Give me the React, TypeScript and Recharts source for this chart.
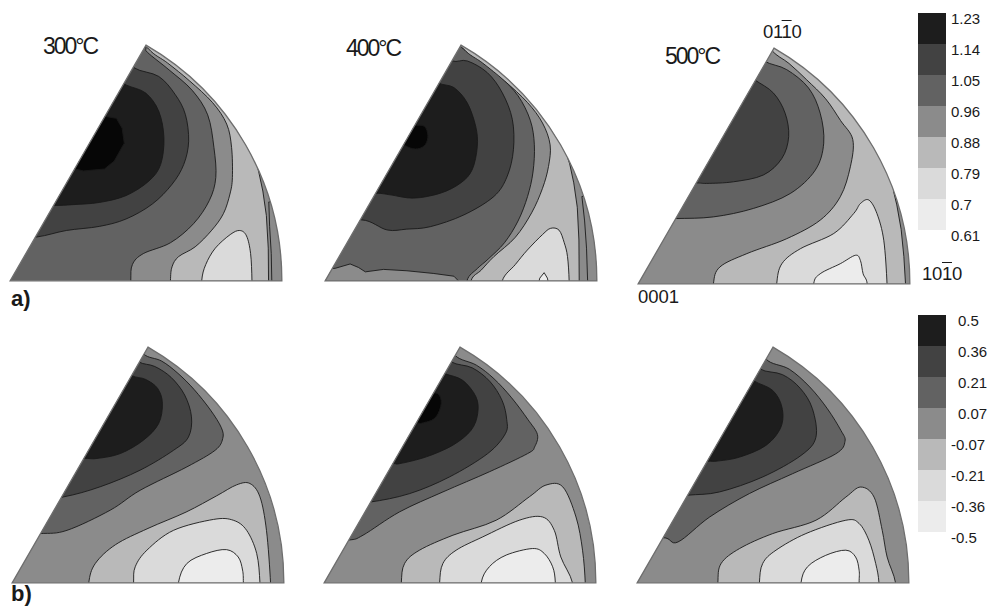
import React from 'react';
import { ScatterChart, Scatter, XAxis, YAxis, BarChart, Bar, Curve } from 'recharts';

type P = [number, number];

// grey level of each contour band (index 0 = lowest band)
const LEVEL_COLORS = ['#ececec', '#dadada', '#b9b9b9', '#8b8b8b', '#626262', '#424242', '#1d1d1d', '#060606'];

// the three poles of the hexagonal standard triangle (unit sector)
const POLES = [
  { label: '0001', u: 0, v: 0 },
  { label: '10-10', u: 1, v: 0 },
  { label: '01-10', u: 0.5, v: 0.866 },
];

const TEMPS = ['300°C', '400°C', '500°C'];
const TOP_TICKS = ['0.61', '0.7', '0.79', '0.88', '0.96', '1.05', '1.14', '1.23'];
const BOTTOM_TICKS = ['-0.5', '-0.36', '-0.21', '-0.07', '0.07', '0.21', '0.36', '0.5'];
const LEGEND_KEYS = ['l0', 'l1', 'l2', 'l3', 'l4', 'l5', 'l6'];
const LEGEND_ROW = [{ name: 'scale', l0: 1, l1: 1, l2: 1, l3: 1, l4: 1, l5: 1, l6: 1 }];

// ---------- a) 300 °C ----------
const A1_L7: P[] = [[0.347, 0.605], [0.391, 0.597], [0.412, 0.561], [0.42, 0.506], [0.383, 0.44], [0.347, 0.411], [0.27, 0.404], [0.2, 0.42], [0.25, 0.62]];
const A1_L6: P[] = [[0.426, 0.72], [0.499, 0.69], [0.547, 0.623], [0.566, 0.526], [0.554, 0.428], [0.511, 0.367], [0.426, 0.313], [0.328, 0.288], [0.231, 0.28], [0.16, 0.277], [0.05, 0.28], [0.35, 0.76]];
const A1_L5: P[] = [[0.097, 0.161], [0.207, 0.185], [0.328, 0.2], [0.426, 0.227], [0.523, 0.282], [0.596, 0.355], [0.639, 0.428], [0.657, 0.513], [0.645, 0.611], [0.608, 0.684], [0.547, 0.751], [0.456, 0.783], [0.4, 0.85], [-0.05, 0.15]];
const A1_L3: P[] = [[0.444, -0.1], [0.444, 0], [0.45, 0.06], [0.49, 0.1], [0.59, 0.14], [0.675, 0.21], [0.733, 0.295], [0.757, 0.38], [0.75, 0.49], [0.727, 0.61], [0.67, 0.7], [0.585, 0.775], [0.505, 0.84], [0.497, 0.862], [0.45, 0.95], [1.2, 0.95], [1.2, -0.1]];
const A1_L2: P[] = [[0.59, -0.1], [0.59, 0], [0.596, 0.052], [0.62, 0.089], [0.681, 0.125], [0.742, 0.186], [0.785, 0.247], [0.809, 0.319], [0.818, 0.38], [0.815, 0.49], [0.797, 0.576], [0.745, 0.655], [0.66, 0.735], [0.58, 0.8], [0.51, 0.852], [0.45, 0.95], [1.2, 0.95], [1.2, -0.1]];
const A1_L3S: P[] = [[0.951, -0.1], [0.951, 0], [0.95, 0.12], [0.943, 0.24], [0.93, 0.33], [0.915, 0.4], [0.905, 0.44], [1.2, 0.44], [1.2, -0.1]];
const A1_L3B: P[] = [[0.963, -0.1], [0.963, 0], [0.961, 0.1], [0.955, 0.2], [0.952, 0.29], [1.2, 0.3], [1.2, -0.1]];
const A1_L1: P[] = [[0.705, -0.1], [0.705, 0], [0.72, 0.06], [0.755, 0.12], [0.81, 0.17], [0.845, 0.185], [0.87, 0.165], [0.885, 0.1], [0.89, 0], [0.89, -0.1]];

// ---------- a) 400 °C ----------
const A2_L7: P[] = [[0.326, 0.571], [0.365, 0.568], [0.378, 0.534], [0.369, 0.501], [0.341, 0.485], [0.304, 0.492], [0.277, 0.519], [0.295, 0.568]];
const A2_L6: P[] = [[0.415, 0.728], [0.474, 0.71], [0.523, 0.654], [0.554, 0.568], [0.56, 0.494], [0.541, 0.408], [0.498, 0.359], [0.424, 0.322], [0.326, 0.304], [0.24, 0.316], [0.185, 0.322], [0.05, 0.32], [0.35, 0.78]];
const A2_L5: P[] = [[0.135, 0.224], [0.228, 0.187], [0.3, 0.19], [0.387, 0.199], [0.51, 0.242], [0.621, 0.31], [0.67, 0.384], [0.693, 0.482], [0.689, 0.593], [0.652, 0.691], [0.597, 0.765], [0.523, 0.808], [0.467, 0.808], [0.4, 0.85], [0, 0.2]];
const A2_L3A: P[] = [[-0.1, 0.04], [0.037, 0.046], [0.092, 0.062], [0.123, 0.049], [0.148, 0.033], [0.215, 0.042], [0.301, 0.037], [0.4, 0.027], [0.474, 0.017], [0.51, -0.02], [0.5, -0.1], [-0.1, -0.1]];
const A2_L3: P[] = [[0.52, -0.1], [0.522, 0], [0.56, 0.045], [0.6, 0.08], [0.66, 0.14], [0.71, 0.22], [0.745, 0.31], [0.765, 0.4], [0.77, 0.5], [0.755, 0.59], [0.71, 0.68], [0.64, 0.755], [0.57, 0.815], [0.503, 0.858], [0.45, 0.95], [1.2, 0.95], [1.2, -0.1]];
const A2_L2: P[] = [[0.535, -0.1], [0.537, 0], [0.575, 0.04], [0.621, 0.089], [0.7, 0.16], [0.76, 0.25], [0.8, 0.34], [0.822, 0.42], [0.828, 0.5], [0.8, 0.58], [0.745, 0.655], [0.66, 0.735], [0.58, 0.8], [0.51, 0.852], [0.45, 0.95], [1.2, 0.95], [1.2, -0.1]];
const A2_L3S: P[] = [[0.935, -0.1], [0.935, 0], [0.934, 0.15], [0.928, 0.27], [0.915, 0.36], [0.9, 0.43], [0.89, 0.46], [1.2, 0.46], [1.2, -0.1]];
const A2_L3B: P[] = [[0.966, -0.1], [0.966, 0], [0.962, 0.12], [0.955, 0.22], [0.945, 0.31], [1.2, 0.32], [1.2, -0.1]];
const A2_L1: P[] = [[0.652, -0.1], [0.652, 0], [0.7, 0.06], [0.744, 0.113], [0.8, 0.17], [0.83, 0.193], [0.861, 0.186], [0.88, 0.14], [0.892, 0.089], [0.898, 0], [0.898, -0.1]];
const A2_L0: P[] = [[0.775, -0.05], [0.79, 0.01], [0.806, 0.03], [0.818, 0.01], [0.83, -0.05]];

// ---------- a) 500 °C ----------
const A3_L5: P[] = [[0.428, 0.75], [0.498, 0.701], [0.541, 0.627], [0.554, 0.541], [0.529, 0.461], [0.461, 0.4], [0.351, 0.375], [0.252, 0.369], [0.212, 0.371], [0.1, 0.37], [0.35, 0.8]];
const A3_L4: P[] = [[0.466, 0.818], [0.547, 0.787], [0.627, 0.72], [0.67, 0.627], [0.683, 0.517], [0.652, 0.418], [0.56, 0.332], [0.424, 0.277], [0.277, 0.246], [0.137, 0.24], [0, 0.24], [0.42, 0.87]];
const A3_L2: P[] = [[0.277, -0.1], [0.277, 0], [0.301, 0.062], [0.4, 0.111], [0.547, 0.166], [0.67, 0.234], [0.744, 0.32], [0.781, 0.43], [0.79, 0.53], [0.745, 0.6], [0.69, 0.68], [0.62, 0.75], [0.555, 0.81], [0.49, 0.86], [0.45, 0.95], [1.2, 0.95], [1.2, -0.1]];
const A3_L3S: P[] = [[0.984, -0.1], [0.984, 0], [0.978, 0.1], [0.968, 0.2], [0.952, 0.29], [0.94, 0.34], [1.2, 0.34], [1.2, -0.1]];
const A3_L1: P[] = [[0.51, -0.1], [0.51, 0], [0.529, 0.074], [0.597, 0.129], [0.72, 0.185], [0.793, 0.258], [0.818, 0.295], [0.849, 0.308], [0.879, 0.258], [0.904, 0.16], [0.916, 0], [0.916, -0.1]];
const A3_L0: P[] = [[0.646, -0.1], [0.646, 0], [0.67, 0.037], [0.744, 0.074], [0.8, 0.105], [0.818, 0.086], [0.828, 0.037], [0.843, 0], [0.843, -0.1]];

// ---------- b) 300 °C ----------
const B1_L6: P[] = [[0.437, 0.763], [0.49, 0.748], [0.535, 0.715], [0.553, 0.66], [0.539, 0.585], [0.483, 0.524], [0.398, 0.475], [0.312, 0.457], [0.262, 0.457], [0.15, 0.45], [0.35, 0.82]];
const B1_L5: P[] = [[0.466, 0.812], [0.525, 0.795], [0.585, 0.755], [0.635, 0.69], [0.66, 0.61], [0.649, 0.536], [0.594, 0.487], [0.471, 0.414], [0.324, 0.353], [0.19, 0.316], [0.05, 0.3], [0.42, 0.86]];
const B1_L4: P[] = [[0.483, 0.842], [0.55, 0.815], [0.61, 0.77], [0.67, 0.71], [0.73, 0.635], [0.77, 0.57], [0.775, 0.53], [0.747, 0.487], [0.643, 0.426], [0.471, 0.34], [0.361, 0.267], [0.202, 0.193], [0.102, 0.181], [-0.05, 0.18], [0.45, 0.92]];
const B1_L2: P[] = [[0.282, -0.1], [0.282, 0], [0.306, 0.071], [0.38, 0.14], [0.5, 0.2], [0.64, 0.26], [0.753, 0.32], [0.826, 0.36], [0.875, 0.365], [0.912, 0.316], [0.936, 0.193], [0.951, 0], [0.951, -0.1]];
const B1_L1: P[] = [[0.447, -0.1], [0.447, 0], [0.453, 0.059], [0.496, 0.12], [0.594, 0.193], [0.741, 0.233], [0.814, 0.23], [0.863, 0.193], [0.9, 0.108], [0.912, 0], [0.912, -0.1]];
const B1_L0: P[] = [[0.612, -0.1], [0.612, 0], [0.643, 0.071], [0.716, 0.108], [0.789, 0.122], [0.832, 0.095], [0.848, 0.047], [0.851, 0], [0.851, -0.1]];

// ---------- b) 400 °C ----------
const B2_L7: P[] = [[0.382, 0.695], [0.419, 0.695], [0.431, 0.659], [0.412, 0.61], [0.376, 0.591], [0.339, 0.597], [0.351, 0.707]];
const B2_L6: P[] = [[0.443, 0.769], [0.51, 0.744], [0.559, 0.683], [0.565, 0.622], [0.541, 0.561], [0.474, 0.506], [0.376, 0.463], [0.278, 0.438], [0.251, 0.438], [0.15, 0.43], [0.36, 0.8]];
const B2_L5: P[] = [[0.468, 0.812], [0.545, 0.79], [0.61, 0.74], [0.655, 0.67], [0.672, 0.6], [0.667, 0.548], [0.602, 0.475], [0.461, 0.389], [0.315, 0.328], [0.17, 0.297], [0.05, 0.29], [0.42, 0.87]];
const B2_L4: P[] = [[0.482, 0.836], [0.56, 0.8], [0.625, 0.75], [0.69, 0.68], [0.75, 0.6], [0.785, 0.545], [0.775, 0.5], [0.749, 0.475], [0.608, 0.408], [0.437, 0.334], [0.278, 0.261], [0.143, 0.175], [0.089, 0.157], [-0.05, 0.15], [0.45, 0.92]];
const B2_L2: P[] = [[0.284, -0.1], [0.284, 0], [0.296, 0.071], [0.351, 0.12], [0.474, 0.175], [0.633, 0.23], [0.755, 0.316], [0.816, 0.359], [0.878, 0.353], [0.927, 0.242], [0.951, 0.12], [0.961, 0], [0.961, -0.1]];
const B2_L1: P[] = [[0.425, -0.1], [0.425, 0], [0.437, 0.071], [0.486, 0.12], [0.584, 0.169], [0.718, 0.23], [0.804, 0.242], [0.847, 0.193], [0.871, 0.095], [0.914, 0], [0.914, -0.1]];
const B2_L0: P[] = [[0.578, -0.1], [0.578, 0], [0.608, 0.059], [0.67, 0.102], [0.767, 0.126], [0.81, 0.108], [0.841, 0.059], [0.851, 0], [0.851, -0.1]];

// ---------- b) 500 °C ----------
const B3_L6: P[] = [[0.428, 0.743], [0.499, 0.707], [0.533, 0.645], [0.529, 0.572], [0.474, 0.505], [0.377, 0.462], [0.291, 0.447], [0.257, 0.447], [0.15, 0.44], [0.35, 0.8]];
const B3_L5: P[] = [[0.452, 0.786], [0.535, 0.765], [0.6, 0.715], [0.645, 0.64], [0.658, 0.535], [0.603, 0.468], [0.462, 0.389], [0.303, 0.334], [0.185, 0.322], [0.05, 0.31], [0.4, 0.85]];
const B3_L4: P[] = [[0.474, 0.823], [0.56, 0.785], [0.635, 0.72], [0.7, 0.64], [0.75, 0.56], [0.765, 0.52], [0.731, 0.474], [0.572, 0.401], [0.413, 0.328], [0.267, 0.242], [0.15, 0.15], [0.095, 0.166], [-0.05, 0.15], [0.45, 0.92]];
const B3_L2: P[] = [[0.297, -0.1], [0.297, 0], [0.309, 0.071], [0.377, 0.126], [0.499, 0.181], [0.658, 0.23], [0.768, 0.315], [0.823, 0.352], [0.872, 0.315], [0.902, 0.193], [0.92, 0.095], [0.951, 0], [0.951, -0.1]];
const B3_L1: P[] = [[0.45, -0.1], [0.45, 0], [0.462, 0.071], [0.511, 0.12], [0.621, 0.181], [0.768, 0.23], [0.817, 0.218], [0.853, 0.156], [0.878, 0.071], [0.89, 0], [0.89, -0.1]];
const B3_L0: P[] = [[0.603, -0.1], [0.603, 0], [0.627, 0.059], [0.694, 0.101], [0.768, 0.12], [0.804, 0.095], [0.817, 0.046], [0.817, 0], [0.817, -0.1]];

type Region = { level: number; pts: P[]; sharp?: boolean };
type PanelDef = { id: string; left: number; top: number; base: number; regions: Region[] };

const PANELS: PanelDef[] = [
  { id: 'ipf-a1', left: 1.85, top: 37.2, base: 4, regions: [
    { level: 3, pts: A1_L3 }, { level: 2, pts: A1_L2 }, { level: 3, pts: A1_L3S, sharp: true }, { level: 3, pts: A1_L3B, sharp: true },
    { level: 1, pts: A1_L1 },
    { level: 5, pts: A1_L5 }, { level: 6, pts: A1_L6 }, { level: 7, pts: A1_L7, sharp: true }] },
  { id: 'ipf-a2', left: 316.85, top: 36.9, base: 4, regions: [
    { level: 3, pts: A2_L3A, sharp: true }, { level: 3, pts: A2_L3 }, { level: 2, pts: A2_L2 },
    { level: 3, pts: A2_L3S, sharp: true }, { level: 3, pts: A2_L3B, sharp: true },
    { level: 1, pts: A2_L1 }, { level: 0, pts: A2_L0, sharp: true },
    { level: 5, pts: A2_L5 }, { level: 6, pts: A2_L6 }, { level: 7, pts: A2_L7 }] },
  { id: 'ipf-a3', left: 630.15, top: 39.5, base: 3, regions: [
    { level: 2, pts: A3_L2 }, { level: 3, pts: A3_L3S, sharp: true }, { level: 1, pts: A3_L1 }, { level: 0, pts: A3_L0 },
    { level: 4, pts: A3_L4 }, { level: 5, pts: A3_L5 }] },
  { id: 'ipf-b1', left: 3.55, top: 338.9, base: 3, regions: [
    { level: 2, pts: B1_L2 }, { level: 1, pts: B1_L1 }, { level: 0, pts: B1_L0 },
    { level: 4, pts: B1_L4 }, { level: 5, pts: B1_L5 }, { level: 6, pts: B1_L6 }] },
  { id: 'ipf-b2', left: 316.15, top: 338.9, base: 3, regions: [
    { level: 2, pts: B2_L2 }, { level: 1, pts: B2_L1 }, { level: 0, pts: B2_L0 },
    { level: 4, pts: B2_L4 }, { level: 5, pts: B2_L5 }, { level: 6, pts: B2_L6 }, { level: 7, pts: B2_L7 }] },
  { id: 'ipf-b3', left: 629.15, top: 338.9, base: 3, regions: [
    { level: 2, pts: B3_L2 }, { level: 1, pts: B3_L1 }, { level: 0, pts: B3_L0 },
    { level: 4, pts: B3_L4 }, { level: 5, pts: B3_L5 }, { level: 6, pts: B3_L6 }] },
];

const X_DOMAIN: [number, number] = [-0.03, 1.03];
const Y_DOMAIN: [number, number] = [-0.03, 0.896];
const CW = 288;
const CH = 252;
const FONT = '"Liberation Sans", Arial, Helvetica, sans-serif';

const toPts = (a: P[]) => a.map(([u, v]) => ({ u, v }));
const Empty = () => <g />;

// closed Catmull-Rom curve factory (d3 curve interface) so contour lines are smooth
const smoothClosed = (context: any) => {
  let pts: [number, number][] = [];
  return {
    areaStart() {},
    areaEnd() {},
    lineStart() {
      pts = [];
    },
    point(x: number, y: number) {
      pts.push([+x, +y]);
    },
    lineEnd() {
      const n = pts.length;
      if (n < 3) return;
      const t = 1 / 6;
      context.moveTo(pts[0][0], pts[0][1]);
      for (let i = 0; i < n; i++) {
        const p0 = pts[(i - 1 + n) % n];
        const p1 = pts[i];
        const p2 = pts[(i + 1) % n];
        const p3 = pts[(i + 2) % n];
        context.bezierCurveTo(
          p1[0] + (p2[0] - p0[0]) * t,
          p1[1] + (p2[1] - p0[1]) * t,
          p2[0] - (p3[0] - p1[0]) * t,
          p2[1] - (p3[1] - p1[1]) * t,
          p2[0],
          p2[1],
        );
      }
      context.closePath();
    },
  };
};

function sectorPath(pts: { x: number; y: number }[]) {
  const [o, e, a] = pts;
  const r = Math.hypot(e.x - o.x, e.y - o.y);
  return `M${o.x},${o.y}L${e.x},${e.y}A${r},${r} 0 0 0 ${a.x},${a.y}Z`;
}

function Panel({ def }: { def: PanelDef }) {
  const { id, left, top, base, regions } = def;
  return (
    <div style={{ position: 'absolute', left, top, width: CW, height: CH }}>
      <ScatterChart width={CW} height={CH} margin={{ top: 0, right: 0, bottom: 0, left: 0 }}>
        <XAxis type="number" dataKey="u" domain={X_DOMAIN} hide allowDataOverflow />
        <YAxis type="number" dataKey="v" domain={Y_DOMAIN} hide allowDataOverflow />
        <Scatter
          data={POLES}
          isAnimationActive={false}
          shape={Empty}
          line={(p: any) => {
            const d = sectorPath(p.points);
            return (
              <g>
                <defs>
                  <clipPath id={id}>
                    <path d={d} />
                  </clipPath>
                </defs>
                <path d={d} fill={LEVEL_COLORS[base]} stroke="none" />
              </g>
            );
          }}
        />
        {regions.map((r, i) => (
          <Scatter
            key={i}
            data={toPts(r.pts)}
            isAnimationActive={false}
            shape={Empty}
            line={(p: any) => (
              <g clipPath={`url(#${id})`}>
                <Curve
                  points={p.points}
                  type={(r.sharp ? 'linearClosed' : smoothClosed) as any}
                  fill={LEVEL_COLORS[r.level]}
                  stroke="#1a1a1a"
                  strokeWidth={0.9}
                />
              </g>
            )}
          />
        ))}
        <Scatter
          data={POLES}
          isAnimationActive={false}
          shape={Empty}
          line={(p: any) => <path d={sectorPath(p.points)} fill="none" stroke="#6e6e6e" strokeWidth={1.3} />}
        />
      </ScatterChart>
    </div>
  );
}

function ColorBar({ left, top, labels, posX, negX }: { left: number; top: number; labels: string[]; posX: number; negX: number }) {
  const Tick = (props: any) => {
    const { y, payload } = props;
    const label = labels[payload.value];
    const x = label.startsWith('-') ? negX : posX;
    return (
      <text x={x} y={y + 6} dy="0.35em" fontSize={15} fill="#1a1a1a" fontFamily={FONT} textAnchor="start">
        {label}
      </text>
    );
  };
  return (
    <div style={{ position: 'absolute', left, top }}>
      <BarChart width={70} height={250} data={LEGEND_ROW} margin={{ top: 13, right: 0, bottom: 20, left: 0 }} barCategoryGap={0} barGap={0}>
        <XAxis dataKey="name" hide />
        <YAxis orientation="right" type="number" domain={[0, 7]} ticks={[0, 1, 2, 3, 4, 5, 6, 7]} interval={0} width={42} axisLine={false} tickLine={false} tick={Tick} />
        {LEGEND_KEYS.map((k, i) => (
          <Bar key={k} dataKey={k} stackId="bar" fill={LEVEL_COLORS[i]} isAnimationActive={false} />
        ))}
      </BarChart>
    </div>
  );
}

const label = (left: number, top: number, size: number, extra: React.CSSProperties = {}): React.CSSProperties => ({
  position: 'absolute', left, top, fontSize: size, lineHeight: 1, whiteSpace: 'nowrap', color: '#1a1a1a', fontFamily: FONT, ...extra,
});

export default function App() {
  return (
    <div style={{ position: 'absolute', left: 0, top: 0, width: 988, height: 610, background: '#fff', overflow: 'hidden', fontFamily: FONT }}>
      {PANELS.map((p) => (
        <Panel key={p.id} def={p} />
      ))}
      <ColorBar left={918} top={0} labels={TOP_TICKS} posX={33} negX={33} />
      <ColorBar left={918} top={302} labels={BOTTOM_TICKS} posX={40} negX={33} />

      <div style={label(43, 35, 23, { letterSpacing: -2 })}>{TEMPS[0]}</div>
      <div style={label(346, 37, 23, { letterSpacing: -2 })}>{TEMPS[1]}</div>
      <div style={label(665, 45, 23, { letterSpacing: -2 })}>{TEMPS[2]}</div>

      <div style={label(763, 22.6, 18.5, { letterSpacing: -0.3 })}>
        01<span style={{ textDecoration: 'overline' }}>1</span>0
      </div>
      <div style={label(922, 265, 18.5, { letterSpacing: -0.3 })}>
        10<span style={{ textDecoration: 'overline' }}>1</span>0
      </div>
      <div style={label(638, 287.6, 18.5, { letterSpacing: 0 })}>0001</div>

      <div style={label(11, 287.5, 22, { fontWeight: 'bold' })}>a)</div>
      <div style={label(11, 583, 22, { fontWeight: 'bold' })}>b)</div>
    </div>
  );
}
